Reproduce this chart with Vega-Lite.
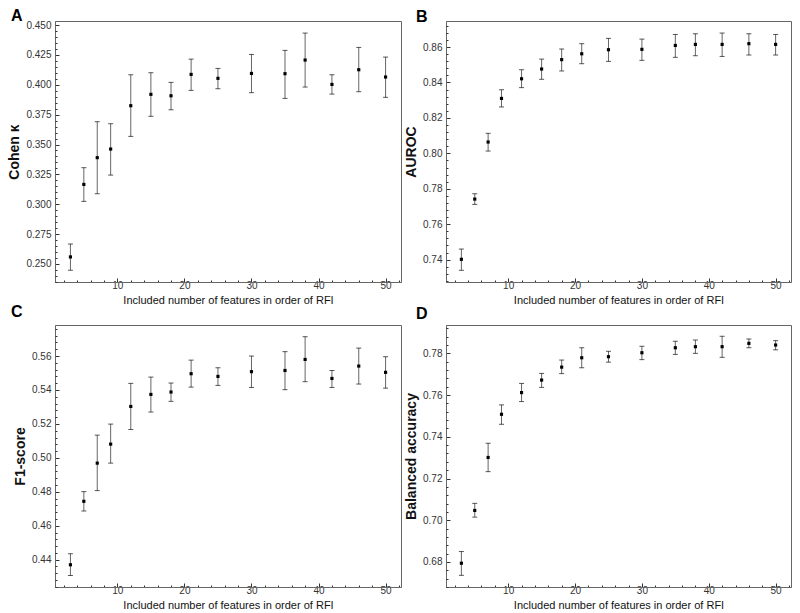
{
  "$schema": "https://vega.github.io/schema/vega-lite/v6.json",
  "padding": {"left": 7, "top": 7, "right": 8, "bottom": 4},
  "background": "white",
  "config": {
    "font": "Liberation Sans",
    "view": {"stroke": "#666", "strokeWidth": 1},
    "axis": {
      "labelFont": "Liberation Sans", "labelFontSize": 10, "labelColor": "#333", "labelOverlap": false,
      "titleFont": "Liberation Sans", "titleColor": "#111",
      "domainColor": "#666", "tickColor": "#333", "grid": false
    },
    "title": {"font": "Liberation Sans", "fontSize": 16, "fontWeight": "bold", "anchor": "start", "frame": "group", "baseline": "alphabetic", "color": "#000"}
  },
  "data": {"values": [
    {"panel": "A", "n": 3, "mean": 0.2559, "lo": 0.2448, "hi": 0.2667},
    {"panel": "A", "n": 5, "mean": 0.3166, "lo": 0.3024, "hi": 0.3306},
    {"panel": "A", "n": 7, "mean": 0.3390, "lo": 0.3088, "hi": 0.3691},
    {"panel": "A", "n": 9, "mean": 0.3462, "lo": 0.3244, "hi": 0.3674},
    {"panel": "A", "n": 12, "mean": 0.3825, "lo": 0.3568, "hi": 0.4084},
    {"panel": "A", "n": 15, "mean": 0.3920, "lo": 0.3736, "hi": 0.4101},
    {"panel": "A", "n": 18, "mean": 0.3908, "lo": 0.3791, "hi": 0.4020},
    {"panel": "A", "n": 21, "mean": 0.4087, "lo": 0.3953, "hi": 0.4215},
    {"panel": "A", "n": 25, "mean": 0.4054, "lo": 0.3967, "hi": 0.4137},
    {"panel": "A", "n": 30, "mean": 0.4095, "lo": 0.3934, "hi": 0.4254},
    {"panel": "A", "n": 35, "mean": 0.4093, "lo": 0.3886, "hi": 0.4288},
    {"panel": "A", "n": 38, "mean": 0.4207, "lo": 0.3981, "hi": 0.4433},
    {"panel": "A", "n": 42, "mean": 0.4003, "lo": 0.3922, "hi": 0.4084},
    {"panel": "A", "n": 46, "mean": 0.4126, "lo": 0.3942, "hi": 0.4313},
    {"panel": "A", "n": 50, "mean": 0.4065, "lo": 0.3895, "hi": 0.4232},
    {"panel": "B", "n": 3, "mean": 0.7402, "lo": 0.7340, "hi": 0.7460},
    {"panel": "B", "n": 5, "mean": 0.7742, "lo": 0.7712, "hi": 0.7772},
    {"panel": "B", "n": 7, "mean": 0.8064, "lo": 0.8013, "hi": 0.8113},
    {"panel": "B", "n": 9, "mean": 0.8310, "lo": 0.8262, "hi": 0.8359},
    {"panel": "B", "n": 12, "mean": 0.8421, "lo": 0.8371, "hi": 0.8472},
    {"panel": "B", "n": 15, "mean": 0.8476, "lo": 0.8418, "hi": 0.8532},
    {"panel": "B", "n": 18, "mean": 0.8529, "lo": 0.8465, "hi": 0.8589},
    {"panel": "B", "n": 21, "mean": 0.8562, "lo": 0.8506, "hi": 0.8619},
    {"panel": "B", "n": 25, "mean": 0.8585, "lo": 0.8519, "hi": 0.8649},
    {"panel": "B", "n": 30, "mean": 0.8587, "lo": 0.8525, "hi": 0.8645},
    {"panel": "B", "n": 35, "mean": 0.8609, "lo": 0.8542, "hi": 0.8671},
    {"panel": "B", "n": 38, "mean": 0.8615, "lo": 0.8551, "hi": 0.8675},
    {"panel": "B", "n": 42, "mean": 0.8615, "lo": 0.8547, "hi": 0.8679},
    {"panel": "B", "n": 46, "mean": 0.8619, "lo": 0.8555, "hi": 0.8675},
    {"panel": "B", "n": 50, "mean": 0.8615, "lo": 0.8555, "hi": 0.8671},
    {"panel": "C", "n": 3, "mean": 0.4370, "lo": 0.4307, "hi": 0.4435},
    {"panel": "C", "n": 5, "mean": 0.4744, "lo": 0.4687, "hi": 0.4801},
    {"panel": "C", "n": 7, "mean": 0.4969, "lo": 0.4807, "hi": 0.5134},
    {"panel": "C", "n": 9, "mean": 0.5081, "lo": 0.4969, "hi": 0.5199},
    {"panel": "C", "n": 12, "mean": 0.5303, "lo": 0.5167, "hi": 0.5439},
    {"panel": "C", "n": 15, "mean": 0.5374, "lo": 0.5270, "hi": 0.5476},
    {"panel": "C", "n": 18, "mean": 0.5388, "lo": 0.5333, "hi": 0.5441},
    {"panel": "C", "n": 21, "mean": 0.5496, "lo": 0.5417, "hi": 0.5576},
    {"panel": "C", "n": 25, "mean": 0.5480, "lo": 0.5427, "hi": 0.5531},
    {"panel": "C", "n": 30, "mean": 0.5508, "lo": 0.5415, "hi": 0.5600},
    {"panel": "C", "n": 35, "mean": 0.5515, "lo": 0.5402, "hi": 0.5626},
    {"panel": "C", "n": 38, "mean": 0.5580, "lo": 0.5449, "hi": 0.5714},
    {"panel": "C", "n": 42, "mean": 0.5468, "lo": 0.5415, "hi": 0.5515},
    {"panel": "C", "n": 46, "mean": 0.5541, "lo": 0.5435, "hi": 0.5647},
    {"panel": "C", "n": 50, "mean": 0.5504, "lo": 0.5411, "hi": 0.5596},
    {"panel": "D", "n": 3, "mean": 0.6794, "lo": 0.6736, "hi": 0.6850},
    {"panel": "D", "n": 5, "mean": 0.7047, "lo": 0.7015, "hi": 0.7081},
    {"panel": "D", "n": 7, "mean": 0.7301, "lo": 0.7233, "hi": 0.7369},
    {"panel": "D", "n": 9, "mean": 0.7508, "lo": 0.7460, "hi": 0.7553},
    {"panel": "D", "n": 12, "mean": 0.7612, "lo": 0.7569, "hi": 0.7656},
    {"panel": "D", "n": 15, "mean": 0.7672, "lo": 0.7637, "hi": 0.7704},
    {"panel": "D", "n": 18, "mean": 0.7734, "lo": 0.7703, "hi": 0.7768},
    {"panel": "D", "n": 21, "mean": 0.7779, "lo": 0.7731, "hi": 0.7827},
    {"panel": "D", "n": 25, "mean": 0.7784, "lo": 0.7758, "hi": 0.7810},
    {"panel": "D", "n": 30, "mean": 0.7803, "lo": 0.7770, "hi": 0.7834},
    {"panel": "D", "n": 35, "mean": 0.7827, "lo": 0.7795, "hi": 0.7858},
    {"panel": "D", "n": 38, "mean": 0.7832, "lo": 0.7800, "hi": 0.7864},
    {"panel": "D", "n": 42, "mean": 0.7832, "lo": 0.7781, "hi": 0.7882},
    {"panel": "D", "n": 46, "mean": 0.7848, "lo": 0.7827, "hi": 0.7869},
    {"panel": "D", "n": 50, "mean": 0.7840, "lo": 0.7817, "hi": 0.7861}
  ]},
  "columns": 2,
  "spacing": {"row": 43, "column": 45},
  "bounds": "flush",
  "concat": [
    {
      "width": 346, "height": 261,
      "title": {"text": "A", "dx": -44, "offset": -4},
      "transform": [{"filter": "datum.panel === 'A'"}],
      "resolve": {"axis": {"y": "independent"}},
      "encoding": {
        "x": {"field": "n", "type": "quantitative", "scale": {"domain": [0.7, 52.3], "nice": false, "zero": false},
          "axis": {"title": "Included number of features in order of RFI", "titleFontSize": 11, "titleFontWeight": "normal", "titlePadding": 2, "labelPadding": 2,
            "values": [2,4,6,8,10,12,14,16,18,20,22,24,26,28,30,32,34,36,38,40,42,44,46,48,50,52],
            "labelExpr": "datum.value % 10 === 0 ? datum.label : ''",
            "tickSize": {"condition": {"test": "datum.value % 10 === 0", "value": -4}, "value": -2}}}
      },
      "layer": [
        {"mark": {"type": "rule", "color": "#666", "strokeWidth": 1},
          "encoding": {"y": {"field": "lo", "type": "quantitative", "scale": {"domain": [0.2349, 0.4534], "nice": false, "zero": false},
            "axis": {"orient": "left", "title": "Cohen κ", "titleFontSize": 14, "titleFontWeight": "bold", "titlePadding": 4, "labelPadding": 8, "tickSize": -4, "format": ".3f",
              "values": [0.25,0.275,0.3,0.325,0.35,0.375,0.4,0.425,0.45]}},
            "y2": {"field": "hi"}}},
        {"mark": {"type": "tick", "orient": "horizontal", "size": 5, "thickness": 1, "color": "#111"},
          "encoding": {"y": {"field": "lo", "type": "quantitative", "axis": null}}},
        {"mark": {"type": "tick", "orient": "horizontal", "size": 5, "thickness": 1, "color": "#111"},
          "encoding": {"y": {"field": "hi", "type": "quantitative", "axis": null}}},
        {"mark": {"type": "square", "size": 10, "color": "#000", "opacity": 1},
          "encoding": {"y": {"field": "mean", "type": "quantitative",
            "axis": {"orient": "left", "title": null, "labels": false, "domain": false, "tickSize": -2,
              "values": [0.235,0.24,0.245,0.255,0.26,0.265,0.27,0.28,0.285,0.29,0.295,0.305,0.31,0.315,0.32,0.33,0.335,0.34,0.345,0.355,0.36,0.365,0.37,0.38,0.385,0.39,0.395,0.405,0.41,0.415,0.42,0.43,0.435,0.44,0.445]}}}}
      ]
    },
    {
      "width": 345, "height": 261,
      "title": {"text": "B", "dx": -30, "offset": -4},
      "transform": [{"filter": "datum.panel === 'B'"}],
      "resolve": {"axis": {"y": "independent"}},
      "encoding": {
        "x": {"field": "n", "type": "quantitative", "scale": {"domain": [0.7, 52.3], "nice": false, "zero": false},
          "axis": {"title": "Included number of features in order of RFI", "titleFontSize": 11, "titleFontWeight": "normal", "titlePadding": 2, "labelPadding": 2,
            "values": [2,4,6,8,10,12,14,16,18,20,22,24,26,28,30,32,34,36,38,40,42,44,46,48,50,52],
            "labelExpr": "datum.value % 10 === 0 ? datum.label : ''",
            "tickSize": {"condition": {"test": "datum.value % 10 === 0", "value": -4}, "value": -2}}}
      },
      "layer": [
        {"mark": {"type": "rule", "color": "#666", "strokeWidth": 1},
          "encoding": {"y": {"field": "lo", "type": "quantitative", "scale": {"domain": [0.7274, 0.8747], "nice": false, "zero": false},
            "axis": {"orient": "left", "title": "AUROC", "titleFontSize": 14, "titleFontWeight": "bold", "titlePadding": 4, "labelPadding": 8, "tickSize": -4, "format": ".2f",
              "values": [0.74,0.76,0.78,0.8,0.82,0.84,0.86]}},
            "y2": {"field": "hi"}}},
        {"mark": {"type": "tick", "orient": "horizontal", "size": 5, "thickness": 1, "color": "#111"},
          "encoding": {"y": {"field": "lo", "type": "quantitative", "axis": null}}},
        {"mark": {"type": "tick", "orient": "horizontal", "size": 5, "thickness": 1, "color": "#111"},
          "encoding": {"y": {"field": "hi", "type": "quantitative", "axis": null}}},
        {"mark": {"type": "square", "size": 10, "color": "#000", "opacity": 1},
          "encoding": {"y": {"field": "mean", "type": "quantitative",
            "axis": {"orient": "left", "title": null, "labels": false, "domain": false, "tickSize": -2,
              "values": [0.728,0.732,0.736,0.744,0.748,0.752,0.756,0.764,0.768,0.772,0.776,0.784,0.788,0.792,0.796,0.804,0.808,0.812,0.816,0.824,0.828,0.832,0.836,0.844,0.848,0.852,0.856,0.864,0.868,0.872]}}}}
      ]
    },
    {
      "width": 346, "height": 262,
      "title": {"text": "C", "dx": -44, "offset": 5},
      "transform": [{"filter": "datum.panel === 'C'"}],
      "resolve": {"axis": {"y": "independent"}},
      "encoding": {
        "x": {"field": "n", "type": "quantitative", "scale": {"domain": [0.7, 52.3], "nice": false, "zero": false},
          "axis": {"title": "Included number of features in order of RFI", "titleFontSize": 11, "titleFontWeight": "normal", "titlePadding": 2, "labelPadding": 2,
            "values": [2,4,6,8,10,12,14,16,18,20,22,24,26,28,30,32,34,36,38,40,42,44,46,48,50,52],
            "labelExpr": "datum.value % 10 === 0 ? datum.label : ''",
            "tickSize": {"condition": {"test": "datum.value % 10 === 0", "value": -4}, "value": -2}}}
      },
      "layer": [
        {"mark": {"type": "rule", "color": "#666", "strokeWidth": 1},
          "encoding": {"y": {"field": "lo", "type": "quantitative", "scale": {"domain": [0.4239, 0.5783], "nice": false, "zero": false},
            "axis": {"orient": "left", "title": "F1-score", "titleFontSize": 14, "titleFontWeight": "bold", "titlePadding": 4, "labelPadding": 8, "tickSize": -4, "format": ".2f",
              "values": [0.44,0.46,0.48,0.5,0.52,0.54,0.56]}},
            "y2": {"field": "hi"}}},
        {"mark": {"type": "tick", "orient": "horizontal", "size": 5, "thickness": 1, "color": "#111"},
          "encoding": {"y": {"field": "lo", "type": "quantitative", "axis": null}}},
        {"mark": {"type": "tick", "orient": "horizontal", "size": 5, "thickness": 1, "color": "#111"},
          "encoding": {"y": {"field": "hi", "type": "quantitative", "axis": null}}},
        {"mark": {"type": "square", "size": 10, "color": "#000", "opacity": 1},
          "encoding": {"y": {"field": "mean", "type": "quantitative",
            "axis": {"orient": "left", "title": null, "labels": false, "domain": false, "tickSize": -2,
              "values": [0.424,0.428,0.432,0.436,0.444,0.448,0.452,0.456,0.464,0.468,0.472,0.476,0.484,0.488,0.492,0.496,0.504,0.508,0.512,0.516,0.524,0.528,0.532,0.536,0.544,0.548,0.552,0.556,0.564,0.568,0.572,0.576]}}}}
      ]
    },
    {
      "width": 345, "height": 262,
      "title": {"text": "D", "dx": -30, "offset": 3},
      "transform": [{"filter": "datum.panel === 'D'"}],
      "resolve": {"axis": {"y": "independent"}},
      "encoding": {
        "x": {"field": "n", "type": "quantitative", "scale": {"domain": [0.7, 52.3], "nice": false, "zero": false},
          "axis": {"title": "Included number of features in order of RFI", "titleFontSize": 11, "titleFontWeight": "normal", "titlePadding": 2, "labelPadding": 2,
            "values": [2,4,6,8,10,12,14,16,18,20,22,24,26,28,30,32,34,36,38,40,42,44,46,48,50,52],
            "labelExpr": "datum.value % 10 === 0 ? datum.label : ''",
            "tickSize": {"condition": {"test": "datum.value % 10 === 0", "value": -4}, "value": -2}}}
      },
      "layer": [
        {"mark": {"type": "rule", "color": "#666", "strokeWidth": 1},
          "encoding": {"y": {"field": "lo", "type": "quantitative", "scale": {"domain": [0.668, 0.7936], "nice": false, "zero": false},
            "axis": {"orient": "left", "title": "Balanced accuracy", "titleFontSize": 14, "titleFontWeight": "bold", "titlePadding": 4, "labelPadding": 8, "tickSize": -4, "format": ".2f",
              "values": [0.68,0.7,0.72,0.74,0.76,0.78]}},
            "y2": {"field": "hi"}}},
        {"mark": {"type": "tick", "orient": "horizontal", "size": 5, "thickness": 1, "color": "#111"},
          "encoding": {"y": {"field": "lo", "type": "quantitative", "axis": null}}},
        {"mark": {"type": "tick", "orient": "horizontal", "size": 5, "thickness": 1, "color": "#111"},
          "encoding": {"y": {"field": "hi", "type": "quantitative", "axis": null}}},
        {"mark": {"type": "square", "size": 10, "color": "#000", "opacity": 1},
          "encoding": {"y": {"field": "mean", "type": "quantitative",
            "axis": {"orient": "left", "title": null, "labels": false, "domain": false, "tickSize": -2,
              "values": [0.668,0.672,0.676,0.684,0.688,0.692,0.696,0.704,0.708,0.712,0.716,0.724,0.728,0.732,0.736,0.744,0.748,0.752,0.756,0.764,0.768,0.772,0.776,0.784,0.788,0.792]}}}}
      ]
    }
  ]
}
